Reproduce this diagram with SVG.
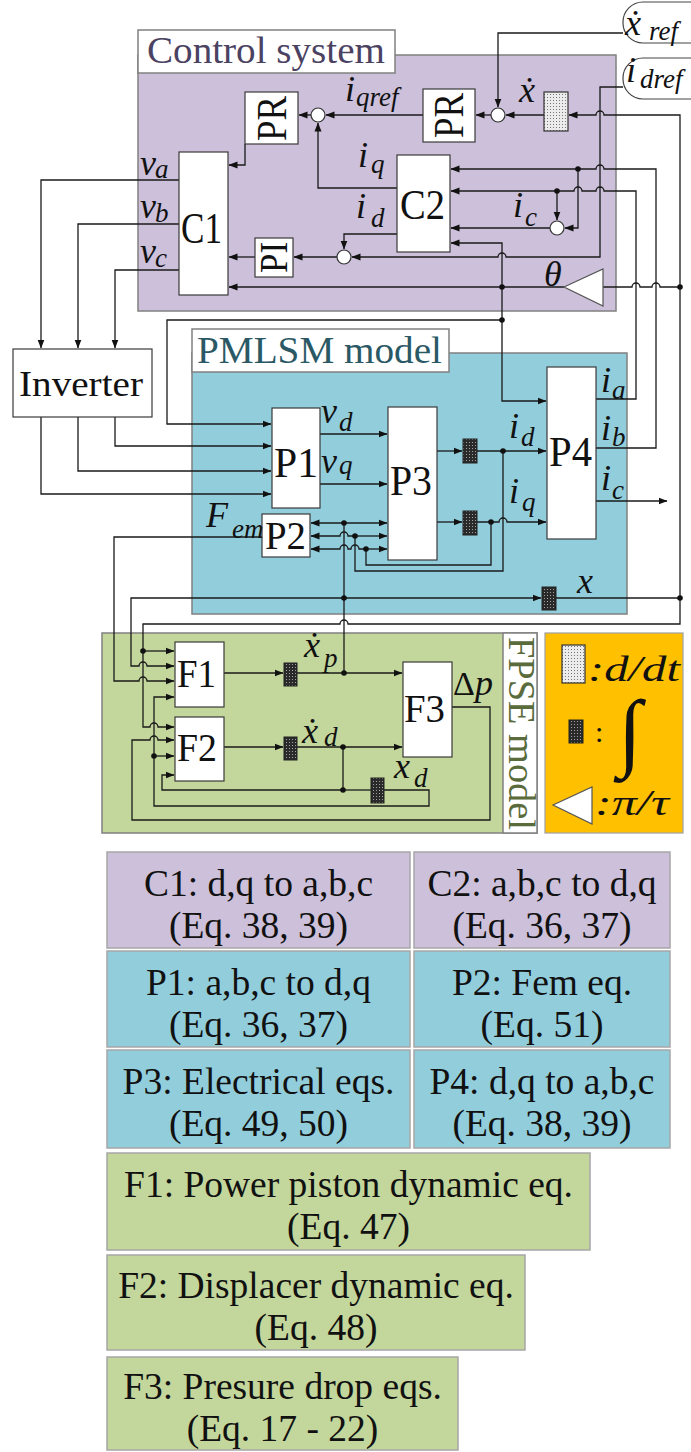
<svg xmlns="http://www.w3.org/2000/svg" width="691" height="1452" viewBox="0 0 691 1452">
<defs>
<style>
.ln{fill:none;stroke:#1a1a1a;stroke-width:1.3}
.ar{marker-end:url(#ah)}
.blk{fill:#fff;stroke:#3a3a3a;stroke-width:1.2}
.sum{fill:#fff;stroke:#333;stroke-width:1.2}
.dot{fill:#111}
.frame{stroke:#808080;stroke-width:1.5}
.t{font-family:"Liberation Serif","Times New Roman",serif;fill:#111}
.m{font-family:"Liberation Serif","Times New Roman",serif;font-style:italic;fill:#111;font-size:36px}
.s{font-size:27px}
.tb{font-family:"Liberation Serif","Times New Roman",serif;fill:#111;font-size:37.5px;text-anchor:middle}
.pur{fill:#ccc0da}
.blu{fill:#92cddc}
.grn{fill:#c3d69b}
.tbox{stroke:#a6a6a6;stroke-width:1.5}
</style>
<marker id="ah" markerWidth="9" markerHeight="8" refX="8.5" refY="4" orient="auto" markerUnits="userSpaceOnUse">
<path d="M0,0.5 L9,4 L0,7.5z" fill="#111"/>
</marker>
<pattern id="lt" width="3" height="3" patternUnits="userSpaceOnUse"><rect width="3" height="3" fill="#ececec"/><rect x="1" y="1" width="1" height="1" fill="#777"/></pattern>
<pattern id="dk" width="3" height="3" patternUnits="userSpaceOnUse"><rect width="3" height="3" fill="#2a2a2a"/><rect x="1" y="1" width="1" height="1" fill="#a0a0a0"/></pattern>
</defs>

<rect width="691" height="1452" fill="#fff"/>

<!-- Frames -->
<g id="control-system">
<rect class="pur frame" x="138" y="55" width="478" height="256"/>
<rect class="frame" fill="#fff" x="138" y="30" width="257" height="43"/>
<text class="t" x="147" y="63" font-size="38" style="fill:#4b4262" textLength="238" lengthAdjust="spacingAndGlyphs">Control system</text>
</g>
<g id="pmlsm-model">
<rect class="blu frame" x="192" y="353" width="435" height="261"/>
<rect class="frame" fill="#fff" x="192" y="329" width="257" height="43"/>
<text class="t" x="197" y="363" font-size="38" style="fill:#2b5865" textLength="245" lengthAdjust="spacingAndGlyphs">PMLSM model</text>
</g>
<g id="fpse-model">
<rect class="grn frame" x="102" y="633" width="435" height="200"/>
<rect class="frame" fill="#fff" x="503" y="633" width="34" height="200"/>
<text class="t" transform="translate(509,637) rotate(90)" font-size="38" style="fill:#5a6b3c" textLength="193" lengthAdjust="spacingAndGlyphs">FPSE model</text>
</g>

<!-- Connectors -->
<g id="connectors">
<path class="ln ar" d="M245,144 V165 H229"/>
<path class="ln ar" d="M311,115 H299"/>
<path class="ln ar" d="M423,115 H326"/>
<path class="ln ar" d="M397,188 H318 V123"/>
<path class="ln ar" d="M397,234 H344 V249"/>
<path class="ln ar" d="M623,87 H600 V257 H506 a4,4 0 0 0 -8,0 H352"/>
<path class="ln ar" d="M337,257 H294"/>
<path class="ln ar" d="M255,257 H229"/>
<path class="ln ar" d="M564,287 H229"/>
<path class="ln ar" d="M623,33 H498 V107"/>
<path class="ln ar" d="M680,598 V115 H604 a4,4 0 0 0 -8,0 H569"/>
<path class="ln ar" d="M544,115 H506"/>
<path class="ln ar" d="M491,115 H476"/>
<path class="ln ar" d="M596,448 H656 V169 H604 a4,4 0 0 0 -8,0 H451"/>
<path class="ln ar" d="M596,399 H636 V191 H604 a4,4 0 0 0 -8,0 H582 a4,4 0 0 0 -8,0 H451"/>
<path class="ln ar" d="M557,191 V220"/>
<path class="ln ar" d="M578,169 V228 H565"/>
<path class="ln ar" d="M550,228 H451"/>
<path class="ln ar" d="M502,287 V243 H451"/>
<path class="ln ar" d="M502,287 V401 H546"/>
<path class="ln ar" d="M502,320 H167 V424 H271"/>
<path class="ln" d="M680,287 H660 a4,4 0 0 0 -8,0 H640 a4,4 0 0 0 -8,0 H603"/>
<path class="ln ar" d="M179,180 H41 V348"/>
<path class="ln ar" d="M179,224 H78 V348"/>
<path class="ln ar" d="M179,270 H115 V348"/>
<path class="ln ar" d="M115,417 V446 H271"/>
<path class="ln ar" d="M78,417 V471 H271"/>
<path class="ln ar" d="M41,417 V494 H271"/>
<path class="ln ar" d="M320,434 H387"/>
<path class="ln ar" d="M320,484 H387"/>
<path class="ln ar" d="M344,523 H311"/>
<path class="ln ar" d="M344,523 H387"/>
<path class="ln ar" d="M355,536 H348 a4,4 0 0 0 -8,0 H311"/>
<path class="ln ar" d="M355,536 H387"/>
<path class="ln ar" d="M366,549 H359 a4,4 0 0 0 -8,0 H348 a4,4 0 0 0 -8,0 H311"/>
<path class="ln ar" d="M366,549 H387"/>
<path class="ln" d="M503,451 V571 H355 V536"/>
<path class="ln" d="M491,522 V565 H366 V549"/>
<path class="ln ar" d="M437,451 H462"/>
<path class="ln ar" d="M437,522 H462"/>
<path class="ln ar" d="M477,451 H546"/>
<path class="ln ar" d="M477,522 H499 a4,4 0 0 1 8,0 H546"/>
<path class="ln ar" d="M596,501 H667"/>
<path class="ln" d="M344,673 V523"/>
<path class="ln ar" d="M344,598 H541"/>
<path class="ln ar" d="M344,598 H131 V666 H139 a4,4 0 0 1 8,0 H174"/>
<path class="ln" d="M556,598 H680"/>
<path class="ln ar" d="M680,598 V624 H348 a4,4 0 0 0 -8,0 H143 V727 H150 a4,4 0 0 1 8,0 H174"/>
<path class="ln ar" d="M143,651 H174"/>
<path class="ln ar" d="M262,537 H114 V681 H139 a4,4 0 0 1 8,0 H174"/>
<path class="ln ar" d="M224,673 H283"/>
<path class="ln ar" d="M297,673 H402"/>
<path class="ln ar" d="M224,747 H283"/>
<path class="ln ar" d="M297,747 H402"/>
<path class="ln ar" d="M343,747 V790 H162 V775 H174"/>
<path class="ln" d="M343,790 H371"/>
<path class="ln ar" d="M384,790 H429 V806 H154 V697 H174"/>
<path class="ln ar" d="M154,756 H174"/>
<path class="ln ar" d="M452,707 H490 V820 H132 V740 H150 a4,4 0 0 1 8,0 H174"/>
<g class="dot">
<circle cx="578" cy="169" r="2.8"/><circle cx="557" cy="191" r="2.8"/>
<circle cx="502" cy="287" r="2.8"/><circle cx="502" cy="320" r="2.8"/>
<circle cx="680" cy="287" r="2.8"/><circle cx="680" cy="598" r="2.8"/>
<circle cx="344" cy="523" r="2.8"/><circle cx="355" cy="536" r="2.8"/><circle cx="366" cy="549" r="2.8"/>
<circle cx="503" cy="451" r="2.8"/><circle cx="491" cy="522" r="2.8"/>
<circle cx="344" cy="598" r="2.8"/><circle cx="143" cy="651" r="2.8"/>
<circle cx="344" cy="673" r="2.8"/><circle cx="343" cy="747" r="2.8"/><circle cx="343" cy="790" r="2.8"/>
<circle cx="154" cy="756" r="2.8"/>
</g>
</g>

<!-- Control nodes -->
<g id="PR1"><rect class="blk" x="245" y="92" width="53" height="52"/><text class="t" transform="translate(286,141) rotate(-90)" font-size="42" textLength="45" lengthAdjust="spacingAndGlyphs">PR</text></g>
<g id="PR2"><rect class="blk" x="423" y="89" width="52" height="53"/><text class="t" transform="translate(463,138) rotate(-90)" font-size="42" textLength="45" lengthAdjust="spacingAndGlyphs">PR</text></g>
<g id="C1"><rect class="blk" x="179" y="152" width="49" height="143"/><text class="t" x="181" y="243" font-size="44" textLength="41" lengthAdjust="spacingAndGlyphs">C1</text></g>
<g id="C2"><rect class="blk" x="397" y="155" width="53" height="97"/><text class="t" x="400" y="219" font-size="42" textLength="45" lengthAdjust="spacingAndGlyphs">C2</text></g>
<g id="PI"><rect class="blk" x="255" y="238" width="38" height="39"/><text class="t" transform="translate(287,273) rotate(-90)" font-size="40" textLength="31" lengthAdjust="spacingAndGlyphs">PI</text></g>
<g id="ddt-x"><rect x="544" y="92" width="24" height="39" fill="url(#lt)" stroke="#333" stroke-width="1.2"/></g>
<g id="sum1"><circle class="sum" cx="318" cy="115" r="7"/></g>
<g id="sum2"><circle class="sum" cx="344" cy="257" r="7"/></g>
<g id="sum3"><circle class="sum" cx="498" cy="115" r="7"/></g>
<g id="sum4"><circle class="sum" cx="557" cy="228" r="7"/></g>
<g id="gain"><polygon points="564,287 603,269 603,306" fill="#fff" stroke="#555" stroke-width="1.2"/></g>
<g id="xref"><rect x="623" y="2" width="100" height="41" rx="20" fill="#fff" stroke="#444" stroke-width="1.2"/><text class="m" x="625" y="35" font-size="38">ẋ<tspan class="s" x="649" y="40" font-size="28">ref</tspan></text></g>
<g id="idref"><rect x="623" y="58" width="100" height="41" rx="20" fill="#fff" stroke="#444" stroke-width="1.2"/><text class="m" x="626" y="82" font-size="38">i<tspan class="s" x="640" y="88" font-size="28">dref</tspan></text></g>

<!-- Control labels -->
<g id="control-labels">
<text class="m" x="140" y="175">v<tspan class="s" x="155" y="178">a</tspan></text>
<text class="m" x="140" y="218">v<tspan class="s" x="155" y="222">b</tspan></text>
<text class="m" x="140" y="263">v<tspan class="s" x="155" y="267">c</tspan></text>
<text class="m" x="345" y="101">i<tspan class="s" x="356" y="106">qref</tspan></text>
<text class="m" x="519" y="102">ẋ</text>
<text class="m" x="358" y="167">i<tspan class="s" x="371" y="173">q</tspan></text>
<text class="m" x="356" y="218">i<tspan class="s" x="371" y="227">d</tspan></text>
<text class="m" x="513" y="217">i<tspan class="s" x="525" y="226">c</tspan></text>
<text class="m" x="544" y="286" font-size="38">θ</text>
</g>

<!-- Inverter -->
<g id="Inverter"><rect class="blk" x="13" y="349" width="139" height="68"/><text class="t" x="19" y="396" font-size="36" textLength="124" lengthAdjust="spacingAndGlyphs">Inverter</text></g>

<!-- PMLSM nodes -->
<g id="P1"><rect class="blk" x="272" y="408" width="48" height="100"/><text class="t" x="274" y="477" font-size="42" textLength="44" lengthAdjust="spacingAndGlyphs">P1</text></g>
<g id="P2"><rect class="blk" x="262" y="514" width="48" height="43"/><text class="t" x="265" y="549" font-size="40" textLength="41" lengthAdjust="spacingAndGlyphs">P2</text></g>
<g id="P3"><rect class="blk" x="388" y="407" width="49" height="153"/><text class="t" x="390" y="495" font-size="42" textLength="42" lengthAdjust="spacingAndGlyphs">P3</text></g>
<g id="P4"><rect class="blk" x="547" y="367" width="49" height="172"/><text class="t" x="549" y="466" font-size="42" textLength="43" lengthAdjust="spacingAndGlyphs">P4</text></g>
<g id="int-id"><rect x="463" y="439" width="14" height="24" fill="url(#dk)" stroke="#222"/></g>
<g id="int-iq"><rect x="463" y="511" width="14" height="24" fill="url(#dk)" stroke="#222"/></g>
<g id="int-x"><rect x="542" y="587" width="14" height="23" fill="url(#dk)" stroke="#222"/></g>

<g id="pmlsm-labels">
<text class="m" x="321" y="423">v<tspan class="s" x="339" y="431">d</tspan></text>
<text class="m" x="321" y="473">v<tspan class="s" x="339" y="474">q</tspan></text>
<text class="m" x="509" y="438">i<tspan class="s" x="521" y="446">d</tspan></text>
<text class="m" x="509" y="503">i<tspan class="s" x="522" y="511">q</tspan></text>
<text class="m" x="601" y="392">i<tspan class="s" x="612" y="399">a</tspan></text>
<text class="m" x="601" y="440">i<tspan class="s" x="612" y="446">b</tspan></text>
<text class="m" x="601" y="490">i<tspan class="s" x="612" y="499">c</tspan></text>
<text class="m" x="577" y="593" font-size="38">x</text>
<text class="m" x="206" y="527">F<tspan class="s" x="232" y="538">em</tspan></text>
</g>

<!-- FPSE nodes -->
<g id="F1"><rect class="blk" x="175" y="642" width="49" height="65"/><text class="t" x="177" y="687" font-size="40" textLength="39" lengthAdjust="spacingAndGlyphs">F1</text></g>
<g id="F2"><rect class="blk" x="175" y="717" width="49" height="64"/><text class="t" x="177" y="761" font-size="40" textLength="40" lengthAdjust="spacingAndGlyphs">F2</text></g>
<g id="F3"><rect class="blk" x="403" y="662" width="49" height="95"/><text class="t" x="404" y="722" font-size="40" textLength="41" lengthAdjust="spacingAndGlyphs">F3</text></g>
<g id="int-xp"><rect x="284" y="663" width="13" height="23" fill="url(#dk)" stroke="#222"/></g>
<g id="int-xd1"><rect x="284" y="737" width="13" height="23" fill="url(#dk)" stroke="#222"/></g>
<g id="int-xd2"><rect x="371" y="778" width="13" height="25" fill="url(#dk)" stroke="#222"/></g>
<g id="fpse-labels">
<text class="m" x="304" y="657">ẋ<tspan class="s" x="324" y="667">p</tspan></text>
<text class="m" x="302" y="743">ẋ<tspan class="s" x="324" y="746">d</tspan></text>
<text class="m" x="394" y="778">x<tspan class="s" x="414" y="787">d</tspan></text>
<text class="t" x="453" y="695" font-size="34">Δ<tspan font-style="italic" font-size="36">p</tspan></text>
</g>

<!-- Legend -->
<g id="legend">
<rect x="545" y="633" width="138" height="200" fill="#ffc000" stroke="#a0a0a0" stroke-width="1.2"/>
<rect x="562" y="645" width="23" height="38" fill="url(#lt)" stroke="#333" stroke-width="1.2"/>
<text class="m" x="588" y="681" font-size="38" textLength="92" lengthAdjust="spacingAndGlyphs">:d/dt</text>
<rect x="569" y="720" width="14" height="23" fill="url(#dk)" stroke="#222"/>
<text class="t" x="595" y="742" font-size="30">:</text>
<text class="t" x="618" y="760" font-size="86">∫</text>
<polygon points="553,805 592,787 592,824" fill="#fff" stroke="#555" stroke-width="1.2"/>
<text class="m" x="595" y="815" font-size="38" textLength="74" lengthAdjust="spacingAndGlyphs">:π/τ</text>
</g>

<!-- Tables -->
<g id="tab-C1"><rect class="pur tbox" x="107" y="852" width="303" height="96"/><text class="tb" x="258.5" y="896">C1: d,q to a,b,c</text><text class="tb" x="258.5" y="938">(Eq. 38, 39)</text></g>
<g id="tab-C2"><rect class="pur tbox" x="414" y="852" width="256" height="96"/><text class="tb" x="542" y="896">C2: a,b,c to d,q</text><text class="tb" x="542" y="938">(Eq. 36, 37)</text></g>
<g id="tab-P1"><rect class="blu tbox" x="107" y="951" width="303" height="96"/><text class="tb" x="258.5" y="995">P1: a,b,c to d,q</text><text class="tb" x="258.5" y="1037">(Eq. 36, 37)</text></g>
<g id="tab-P2"><rect class="blu tbox" x="414" y="951" width="256" height="96"/><text class="tb" x="542" y="995">P2: Fem eq.</text><text class="tb" x="542" y="1037">(Eq. 51)</text></g>
<g id="tab-P3"><rect class="blu tbox" x="107" y="1050" width="303" height="98"/><text class="tb" x="258.5" y="1094">P3: Electrical eqs.</text><text class="tb" x="258.5" y="1136">(Eq. 49, 50)</text></g>
<g id="tab-P4"><rect class="blu tbox" x="414" y="1050" width="256" height="98"/><text class="tb" x="542" y="1094">P4: d,q to a,b,c</text><text class="tb" x="542" y="1136">(Eq. 38, 39)</text></g>
<g id="tab-F1"><rect class="grn tbox" x="107" y="1153" width="483" height="97"/><text class="tb" x="348.5" y="1197">F1: Power piston dynamic eq.</text><text class="tb" x="348.5" y="1239">(Eq. 47)</text></g>
<g id="tab-F2"><rect class="grn tbox" x="107" y="1255" width="418" height="95"/><text class="tb" x="316" y="1298">F2: Displacer dynamic eq.</text><text class="tb" x="316" y="1340">(Eq. 48)</text></g>
<g id="tab-F3"><rect class="grn tbox" x="107" y="1357" width="351" height="93"/><text class="tb" x="282.5" y="1399">F3: Presure drop eqs.</text><text class="tb" x="282.5" y="1441">(Eq. 17 - 22)</text></g>
</svg>
